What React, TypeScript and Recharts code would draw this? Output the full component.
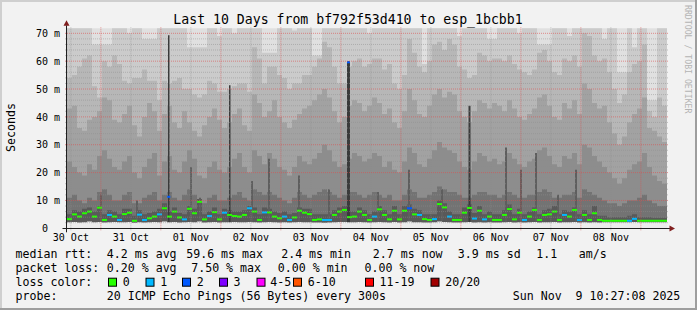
import React from "react";
import { ComposedChart, Area, Scatter, XAxis, YAxis, CartesianGrid, ReferenceLine } from "recharts";

// ---------- data ----------
// 120 consolidated columns, 2 hours each, starting Oct 30 10:27:08
const median = [
  3.3, 5.0, 4.2, 5.4, 6.0, 4.2, 7.4, 3.0, 4.8, 4.2,
  3.0, 5.1, 5.6, 2.7, 4.9, 3.0, 3.6, 4.2, 5.0, 7.2,
  4.2, 6.0, 3.9, 3.2, 7.0, 5.4, 9.5, 3.2, 4.4, 5.8,
  3.2, 5.6, 4.8, 4.4, 4.2, 4.8, 7.2, 6.0, 3.0, 5.7,
  5.7, 4.2, 3.6, 4.2, 3.0, 3.9, 6.3, 5.6, 5.1, 3.0,
  3.2, 3.0, 3.0, 4.8, 6.0, 6.6, 4.0, 4.2, 6.0, 4.8,
  3.0, 4.2, 6.8, 4.8, 3.2, 6.3, 3.2, 6.3, 7.2, 5.0,
  4.8, 3.3, 3.0, 3.3, 8.7, 7.5, 4.2, 3.0, 3.0, 5.6,
  7.3, 3.5, 6.3, 3.2, 4.2, 3.0, 3.0, 4.8, 6.9, 3.2,
  5.6, 3.0, 4.2, 6.6, 3.0, 4.8, 5.0, 6.0, 3.0, 4.8,
  4.2, 6.6, 3.0, 4.8, 3.0, 5.4, 3.0, 2.7, 2.7, 2.7,
  2.7, 2.7, 2.7, 3.4, 2.7, 2.7, 2.7, 2.7, 2.7, 2.7,
];
const lossCount = [
  0, 0, 0, 0, 0, 0, 0, 0, 1, 0,
  1, 0, 0, 0, 1, 1, 0, 0, 1, 0,
  0, 0, 0, 1, 0, 0, 0, 0, 1, 0,
  0, 1, 0, 0, 0, 0, 1, 0, 0, 1,
  0, 0, 0, 1, 1, 0, 0, 0, 0, 0,
  0, 1, 1, 0, 0, 0, 0, 0, 0, 0,
  0, 1, 0, 0, 0, 0, 0, 0, 2, 0,
  1, 0, 0, 1, 0, 0, 1, 0, 0, 0,
  0, 1, 0, 1, 0, 0, 0, 0, 0, 0,
  0, 1, 0, 0, 0, 0, 0, 0, 0, 1,
  0, 0, 1, 0, 0, 0, 0, 0, 0, 0,
  0, 0, 1, 1, 0, 0, 0, 0, 0, 0,
];
const minRtt = [
  2.2, 2.3, 2.1, 2.2, 2.4, 2.2, 2.3, 2.1, 2.2, 2.3,
  2.2, 2.2, 2.3, 2.0, 2.2, 2.1, 2.2, 2.3, 2.2, 2.4,
  2.2, 2.3, 2.1, 2.2, 2.3, 2.2, 2.4, 2.1, 2.2, 2.3,
  2.1, 2.2, 2.2, 2.3, 2.2, 2.2, 2.3, 2.2, 2.1, 2.2,
  2.3, 2.2, 2.1, 2.2, 2.1, 2.2, 2.3, 2.2, 2.2, 2.1,
  2.1, 2.0, 2.1, 2.2, 2.3, 2.3, 2.2, 2.2, 2.3, 2.2,
  2.1, 2.2, 2.3, 2.2, 2.1, 2.3, 2.1, 2.2, 2.4, 2.2,
  2.2, 2.1, 2.1, 2.2, 2.4, 2.3, 2.2, 2.1, 2.1, 2.2,
  2.3, 2.1, 2.2, 2.1, 2.2, 2.1, 2.1, 2.2, 2.3, 2.1,
  2.2, 2.1, 2.2, 2.3, 2.1, 2.2, 2.2, 2.3, 2.1, 2.2,
  2.2, 2.3, 2.1, 2.2, 2.1, 2.2, 2.1, 2.2, 2.2, 2.2,
  2.2, 2.2, 2.2, 2.3, 2.2, 2.2, 2.2, 2.2, 2.2, 2.2,
];
const smokeCore = [
  5, 6.5, 6, 7, 7.5, 6, 8, 5, 6.5, 6,
  5, 7, 7, 4.5, 6.5, 5, 5.5, 6, 7, 9,
  6, 7.5, 5.5, 5, 8, 7, 10.5, 5, 6, 7.5,
  5, 7, 6.5, 6, 6, 6.5, 8, 7.5, 5, 7.5,
  7, 6, 5.5, 6, 5, 5.5, 7.5, 7, 7, 5,
  5, 5, 5, 6.5, 7.5, 8, 6, 6, 7.5, 6.5,
  5, 6, 8, 6.5, 5, 8, 5, 8, 8.5, 7,
  6.5, 5, 5, 5, 10, 9, 6, 5, 5, 7.5,
  8.5, 5.5, 8, 5, 6, 5, 5, 6.5, 8.5, 5,
  7, 5, 6, 7.5, 5, 6.5, 7, 8, 5, 6.5,
  6, 7.5, 5, 6.5, 5, 8, 4.5, 4.5, 4, 4,
  4, 4, 4.5, 5, 4, 4, 4, 3.8, 3.8, 3.8,
];
const smoke0 = [
  11, 12, 10, 9, 11, 10, 13, 14, 12, 10,
  10, 12, 13, 9, 9, 11, 12, 13, 10, 12,
  13, 11, 10, 12, 14, 12, 10, 9, 11, 12,
  10, 10, 11, 12, 13, 11, 10, 14, 13, 12,
  13, 12, 11, 10, 9, 11, 13, 12, 11, 12,
  13, 14, 13, 12, 11, 12, 13, 13, 12, 11,
  12, 13, 12, 11, 12, 10, 10, 12, 14, 13,
  11, 11, 12, 13, 15, 14, 13, 13, 12, 11,
  11, 12, 13, 13, 12, 12, 11, 12, 13, 12,
  11, 11, 12, 12, 13, 14, 13, 11, 11, 12,
  12, 13, 11, 14, 13, 12, 11, 10, 9, 9,
  8, 9, 10, 10, 11, 12, 10, 9, 8, 8,
];
const smoke1 = [
  24, 22, 20, 19, 23, 21, 26, 28, 25, 22,
  21, 24, 26, 20, 18, 22, 25, 27, 19, 24,
  26, 21, 20, 24, 28, 25, 19, 18, 22, 24,
  21, 20, 22, 25, 27, 22, 20, 28, 26, 23,
  27, 25, 22, 21, 19, 22, 26, 24, 23, 25,
  27, 30, 28, 24, 22, 23, 25, 27, 26, 24,
  25, 27, 26, 22, 24, 21, 20, 24, 29, 27,
  23, 22, 25, 28, 31, 29, 28, 27, 24, 22,
  21, 24, 27, 26, 24, 25, 23, 24, 27, 25,
  23, 22, 24, 25, 28, 29, 26, 23, 22, 26,
  25, 27, 23, 30, 29, 26, 24, 22, 20, 18,
  16, 18, 21, 23, 24, 27, 22, 19, 17, 16,
];
const smoke2 = [
  43, 44, 36, 35, 39, 40, 42, 47, 46, 39,
  38, 41, 44, 37, 33, 40, 45, 42, 35, 41,
  44, 38, 36, 42, 38, 35, 33, 37, 40, 43,
  39, 36, 38, 41, 43, 37, 35, 48, 45, 40,
  42, 46, 40, 38, 36, 39, 41, 43, 44, 46,
  48, 50, 47, 42, 38, 40, 44, 46, 45, 42,
  44, 47, 45, 41, 43, 38, 36, 42, 50, 46,
  41, 40, 44, 48, 50, 47, 49, 48, 42, 40,
  38, 42, 46, 45, 43, 45, 44, 42, 46, 43,
  40, 39, 41, 43, 47, 48, 44, 40, 39, 45,
  43, 46, 41, 52, 50, 45, 43, 44, 38, 34,
  30, 33, 38, 41, 43, 47, 36, 35, 33, 31,
];
const smoke3 = [
  54, 55, 58, 61, 62, 51, 47, 60, 58, 62,
  59, 53, 52, 54, 54, 57, 53, 53, 46, 53,
  52, 53, 54, 50, 50, 48, 47, 48, 53, 52,
  49, 49, 50, 51, 52, 52, 49, 65, 61, 52,
  58, 58, 55, 54, 50, 52, 52, 55, 55, 58,
  61, 67, 65, 58, 52, 52, 58, 60, 61, 58,
  59, 61, 61, 57, 59, 52, 50, 55, 68, 63,
  58, 56, 60, 66, 67, 64, 68, 66, 58, 57,
  54, 55, 63, 62, 60, 61, 61, 60, 62, 59,
  57, 56, 55, 57, 63, 64, 60, 56, 55, 61,
  60, 62, 58, 70, 69, 62, 60, 61, 56, 50,
  45, 48, 56, 59, 60, 66, 42, 40, 47, 44,
];
const smoke4 = [
  72, 72, 72, 72, 72, 66, 66, 66, 66, 72,
  72, 72, 70, 72, 72, 68, 68, 68, 72, 72,
  72, 72, 72, 72, 65, 65, 65, 65, 72, 72,
  69, 72, 72, 70, 72, 72, 72, 72, 72, 63,
  63, 63, 72, 72, 72, 71, 72, 72, 72, 62,
  62, 72, 72, 72, 72, 72, 72, 72, 72, 72,
  70, 72, 72, 72, 72, 72, 72, 72, 72, 72,
  72, 59, 72, 72, 72, 72, 72, 72, 69, 72,
  72, 72, 72, 72, 68, 68, 72, 72, 72, 72,
  70, 72, 72, 72, 66, 66, 66, 72, 72, 72,
  69, 72, 72, 72, 72, 72, 72, 68, 72, 72,
  56, 56, 72, 65, 72, 72, 46, 46, 72, 72,
];
// thin tall dark spikes (time in hours from start, top in ms, duration in hours)
const spikeTime = [40.4, 64.8, 112.0, 160.6];
const spikeTop = [69.3, 51.4, 60.0, 44.0];
const spikeDur = [0.6, 0.6, 1.2, 0.8];
// thinner medium-dark streaks in the lower smoke
const streakTime = [13.2, 49.2, 52.8, 73.6, 80.4, 92.4, 124.0, 136.4, 149.6, 175.2, 181.2, 187.2, 203.2, 27.6, 104.4, 196.0];
const streakTop = [12, 22, 11, 17, 25, 19, 13, 21, 14, 29, 21, 27, 21, 10, 14, 12];
const streakDur = [0.8, 0.8, 0.8, 0.8, 0.8, 0.8, 0.8, 0.8, 0.8, 0.8, 0.8, 0.8, 0.8, 0.8, 0.8, 0.8];
const spikeMedTime = [40.7, 112.6];
const spikeMedValue = [11.3, 59.6];
const spikeMedLoss = [2, 2];

const dayLabels = ["30 Oct", "31 Oct", "01 Nov", "02 Nov", "03 Nov", "04 Nov", "05 Nov", "06 Nov", "07 Nov", "08 Nov"];
const yLabelValues = [0, 10, 20, 30, 40, 50, 60, 70];
const minorYValues = [2, 4, 6, 8, 12, 14, 16, 18, 22, 24, 26, 28, 32, 34, 36, 38, 42, 44, 46, 48, 52, 54, 56, 58, 62, 64, 66, 68];
const majorYValues = [10, 20, 30, 40, 50, 60, 70];

const lossLegend = [
  { label: "0", color: "#26ff00" },
  { label: "1", color: "#00b8ff" },
  { label: "2", color: "#0059ff" },
  { label: "3", color: "#7e00ff" },
  { label: "4-5", color: "#ff00ff" },
  { label: "6-10", color: "#ff5500" },
  { label: "11-19", color: "#ff0000" },
  { label: "20/20", color: "#a10000" },
];
const lossColors = lossLegend.map((l) => l.color);

const legendRows = [
  ["median rtt:", "4.2 ms avg", "59.6 ms max", "2.4 ms min", "2.7 ms now", "3.9 ms sd", "1.1", "am/s"],
  ["packet loss:", "0.20 % avg", "7.50 % max", "0.00 % min", "0.00 % now"],
  ["loss color:"],
  ["probe:", "20 ICMP Echo Pings (56 Bytes) every 300s", "Sun Nov  9 10:27:08 2025"],
];
const titleText = "Last 10 Days from bf792f53d410 to esp_1bcbb1";

// ---------- layout ----------
const W = 697;
const H = 310;
const PL = 67;
const PT = 28.3;
const PW = 600;
const PH = 200;
const T_SPAN = 240;
const Y_MAX = 71.8;
const EXT = 2;
const X_AXIS_H = 20;
const Y_AXIS_W = 30;
const STEP = T_SPAN / median.length;
const COL_W = PW / median.length;
const FONT = "'DejaVu Sans Mono', monospace";

const legendX = [
  [15.5, 106.8, 186.2, 281.2, 372.8, 457.8, 536.2, 578.8],
  [15.5, 106.8, 191.2, 277.8, 364.5],
  [15.5],
  [15.5, 106.8, 512.8],
];
const legendY = [257.5, 271.7, 286, 300.2];
const swatchX = [108.5, 146, 182.5, 219.5, 257, 293.5, 365.5, 431];
const swatchTextX = [122.8, 160.2, 196.8, 233.5, 270.2, 307.8, 379.5, 445.2];

// ---------- derived tables ----------
const rows = median.map((_, i) => ({
  t: i * STEP,
  b4: smoke4[i],
  b3: smoke3[i],
  b2: smoke2[i],
  b1: smoke1[i],
  b0: smoke0[i],
  core: smokeCore[i],
  mn: minRtt[i],
}));
rows.push({ ...rows[rows.length - 1], t: T_SPAN });

const pulses = (times: number[], tops: number[], durs: number[]) => {
  const order = times.map((t, k) => k).sort((a, b) => times[a] - times[b]);
  const out: { t: number; v: number }[] = [{ t: 0, v: 0 }];
  order.forEach((k) => {
    out.push({ t: times[k], v: tops[k] });
    out.push({ t: times[k] + durs[k], v: 0 });
  });
  out.push({ t: T_SPAN, v: 0 });
  return out;
};
const spikeRows = pulses(spikeTime, spikeTop, spikeDur);
const streakRows = pulses(streakTime, streakTop, streakDur);

const medianPoints = median.map((m, i) => ({ t: i * STEP + STEP / 2, m, loss: lossCount[i] }));
const spikeMedPoints = spikeMedTime.map((t, k) => ({ t, m: spikeMedValue[k], loss: spikeMedLoss[k] }));

const firstMidnight = 13 + 32 / 60 + 52 / 3600;
const midnights = dayLabels.map((_, k) => firstMidnight + 24 * k);
const noons = dayLabels.map((_, k) => firstMidnight - 12 + 24 * k);

const bandDefs = [
  { key: "b4", color: "#cbcbcb" },
  { key: "b3", color: "#b7b7b7" },
  { key: "b2", color: "#a2a2a2" },
  { key: "b1", color: "#8d8d8d" },
  { key: "b0", color: "#737373" },
  { key: "core", color: "#595959" },
];

const makeDash = (w: number) => (props: any) => {
  const { cx, cy } = props;
  if (cx == null || cy == null) return <g />;
  const p = props.payload || props;
  return <rect x={cx - w / 2} y={cy - 1} width={w} height={2} fill={lossColors[p.loss] || lossColors[0]} />;
};

const renderXTick = (props: any) => {
  const { x, y, payload } = props;
  const idx = noons.findIndex((n) => Math.abs(n - payload.value) < 0.01);
  return (
    <text x={x} y={y + 10.7} textAnchor="middle" fontFamily={FONT} fontSize={10} fill="#000">
      {dayLabels[idx] ?? ""}
    </text>
  );
};

const renderYTick = (props: any) => {
  const { x, y, payload } = props;
  const v = payload.value;
  const label = v === 0 ? "0\u00a0\u00a0" : `${v} m`;
  return (
    <text x={x - 5} y={y + 3.7} textAnchor="end" fontFamily={FONT} fontSize={10} fill="#000">
      {label}
    </text>
  );
};

const gridMinor = "rgba(143,143,143,0.5)";
const gridMajor = "rgba(222,79,79,0.6)";
const ARROW = "#801f1f";
const AXIS = "#1f1f1f";

export default function App() {
  const tExt = (EXT * T_SPAN) / PW;
  const yExt = (EXT * Y_MAX) / PH;
  const axisY = PT + PH + 0.2;
  const axisX = PL - 0.5;
  return (
    <div style={{ position: "absolute", left: 0, top: 0, width: W, height: H, background: "#f2f2f2", overflow: "hidden" }}>
      {/* smoke + median */}
      <div style={{ position: "absolute", left: 0, top: 0 }}>
        <ComposedChart width={W} height={H} data={rows} margin={{ top: PT, right: W - PL - PW, bottom: H - PT - PH, left: PL }}>
          <CartesianGrid fill="#e0e0e0" horizontal={false} vertical={false} stroke="none" />
          <XAxis dataKey="t" type="number" domain={[0, T_SPAN]} allowDataOverflow hide />
          <YAxis type="number" domain={[0, Y_MAX]} allowDataOverflow hide />
          <YAxis yAxisId="med" dataKey="m" type="number" domain={[0, Y_MAX]} allowDataOverflow hide />
          {bandDefs.map((b) => (
            <Area
              key={b.key}
              dataKey={b.key}
              type="stepAfter"
              stroke="none"
              fill={b.color}
              fillOpacity={1}
              isAnimationActive={false}
              dot={false}
              activeDot={false}
            />
          ))}
          <Area data={streakRows} dataKey="v" type="stepAfter" stroke="none" fill="#5e5e5e" fillOpacity={1} isAnimationActive={false} dot={false} activeDot={false} />
          <Area data={spikeRows} dataKey="v" type="stepAfter" stroke="none" fill="#3a3a3a" fillOpacity={1} isAnimationActive={false} dot={false} activeDot={false} />
          <Area dataKey="mn" type="stepAfter" stroke="none" fill="#ececec" fillOpacity={1} isAnimationActive={false} dot={false} activeDot={false} />
          <Scatter yAxisId="med" data={medianPoints} dataKey="m" shape={makeDash(COL_W)} isAnimationActive={false} />
          <Scatter yAxisId="med" data={spikeMedPoints} dataKey="m" shape={makeDash(3)} isAnimationActive={false} />
        </ComposedChart>
      </div>
      {/* grid + tick labels, grid extended 2px beyond the plot like rrdtool */}
      <div style={{ position: "absolute", left: 0, top: 0 }}>
        <ComposedChart
          width={W}
          height={H}
          data={rows}
          margin={{
            top: PT - EXT,
            right: W - PL - PW - EXT,
            bottom: H - PT - PH - EXT - X_AXIS_H,
            left: PL - EXT - Y_AXIS_W,
          }}
        >
          <XAxis
            dataKey="t"
            type="number"
            domain={[-tExt, T_SPAN + tExt]}
            allowDataOverflow
            ticks={noons}
            interval={0}
            tick={renderXTick}
            tickSize={0}
            tickMargin={0}
            axisLine={false}
            tickLine={false}
            height={X_AXIS_H}
          />
          <YAxis
            type="number"
            domain={[-yExt, Y_MAX + yExt]}
            allowDataOverflow
            ticks={yLabelValues}
            interval={0}
            tick={renderYTick}
            tickSize={0}
            tickMargin={0}
            axisLine={false}
            tickLine={false}
            width={Y_AXIS_W}
          />
          <Area dataKey="b0" stroke="none" fill="none" fillOpacity={0} isAnimationActive={false} dot={false} activeDot={false} />
          {minorYValues.map((v) => (
            <ReferenceLine key={"my" + v} y={v} stroke={gridMinor} strokeDasharray="1 1" strokeWidth={1} />
          ))}
          {noons.map((v) => (
            <ReferenceLine key={"mx" + v} x={v} stroke={gridMinor} strokeDasharray="1 1" strokeWidth={1} />
          ))}
          {majorYValues.map((v) => (
            <ReferenceLine key={"My" + v} y={v} stroke={gridMajor} strokeDasharray="1 1" strokeWidth={1} />
          ))}
          {midnights.map((v) => (
            <ReferenceLine key={"Mx" + v} x={v} stroke={gridMajor} strokeDasharray="1 1" strokeWidth={1} />
          ))}
        </ComposedChart>
      </div>
      {/* frame, axes, texts */}
      <svg width={W} height={H} style={{ position: "absolute", left: 0, top: 0 }}>
        <rect x={0} y={0} width={W} height={2} fill="#cfcfcf" />
        <rect x={0} y={0} width={2} height={H} fill="#cfcfcf" />
        <rect x={0} y={H - 2} width={W} height={2} fill="#9e9e9e" />
        <rect x={W - 2} y={0} width={2} height={H} fill="#9e9e9e" />

        <line x1={PL - 4.5} y1={axisY} x2={PL + PW + 3} y2={axisY} stroke={AXIS} strokeWidth={1} />
        <line x1={axisX} y1={PT + PH + 4} x2={axisX} y2={PT - 3} stroke={AXIS} strokeWidth={1} />
        <polygon
          points={`${PL + PW + 2.5},${axisY - 3} ${PL + PW + 2.5},${axisY + 3} ${PL + PW + 8},${axisY}`}
          fill={ARROW}
        />
        <polygon points={`${axisX - 3},${PT - 2.5} ${axisX + 3},${PT - 2.5} ${axisX},${PT - 8}`} fill={ARROW} />

        <text x={W / 2 - 0.5} y={24} textAnchor="middle" fontFamily={FONT} fontSize={13.2} fill="#000">
          {titleText}
        </text>
        <text
          x={15}
          y={127.5}
          transform="rotate(-90 15 127.5)"
          textAnchor="middle"
          fontFamily={FONT}
          fontSize={11.6}
          fill="#000"
        >
          Seconds
        </text>
        <text
          x={685}
          y={5}
          transform="rotate(90 685 5)"
          textAnchor="start"
          fontFamily={FONT}
          fontSize={8.2}
          fill="#b4b4b4"
          style={{ whiteSpace: "pre" }}
        >
          RRDTOOL / TOBI OETIKER
        </text>

        {legendRows.map((row, r) =>
          row.map((txt, c) => (
            <text
              key={`l${r}-${c}`}
              x={legendX[r][c]}
              y={legendY[r]}
              fontFamily={FONT}
              fontSize={11.6}
              fill="#000"
              style={{ whiteSpace: "pre" }}
            >
              {txt}
            </text>
          ))
        )}
        {lossLegend.map((l, k) => (
          <g key={"sw" + k}>
            <rect x={swatchX[k]} y={278.2} width={8} height={8} fill={l.color} stroke="#000" strokeWidth={1} />
            <text x={swatchTextX[k]} y={legendY[2]} fontFamily={FONT} fontSize={11.6} fill="#000">
              {l.label}
            </text>
          </g>
        ))}
      </svg>
    </div>
  );
}
